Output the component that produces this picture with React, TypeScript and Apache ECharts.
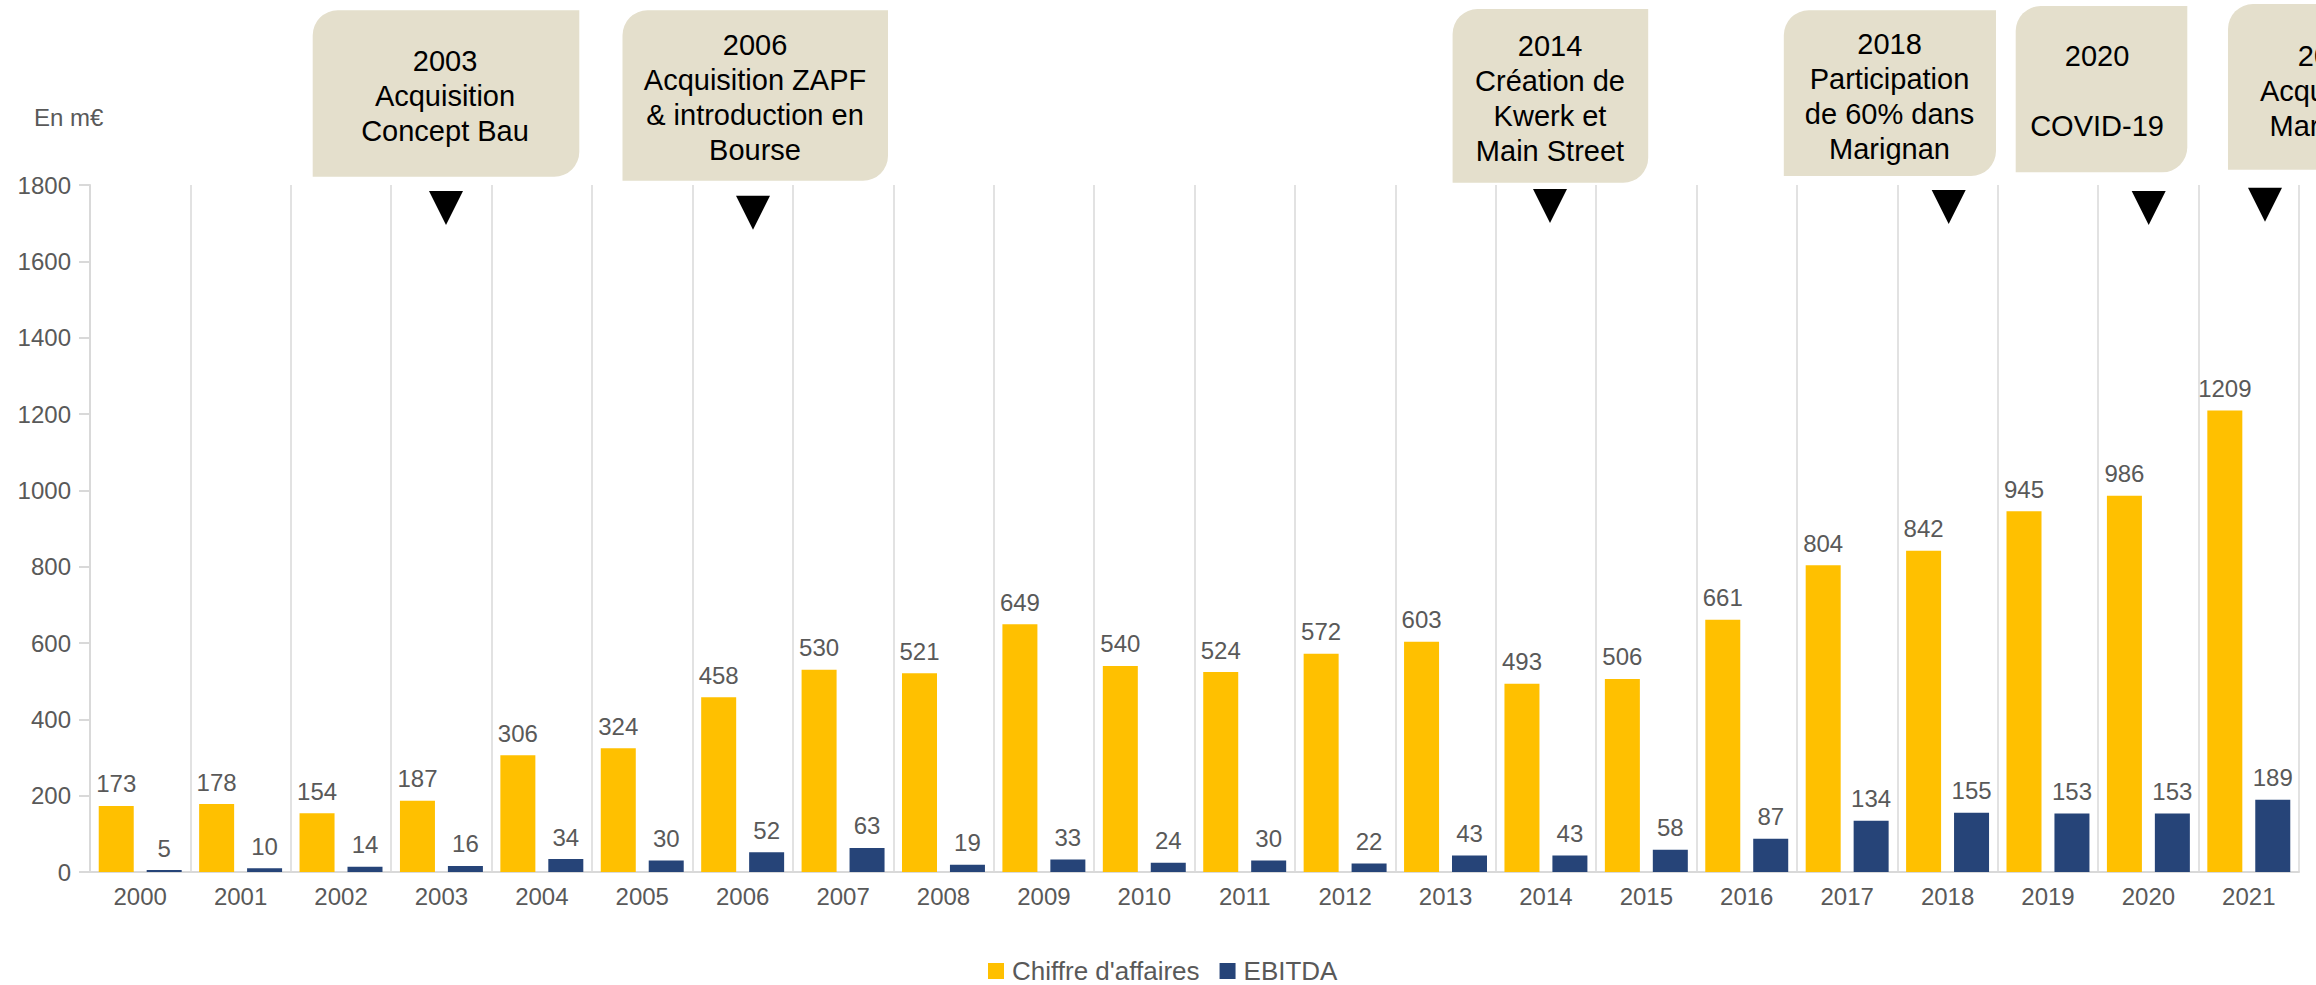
import React, { useEffect, useRef } from "react";
import * as echarts from "echarts";

const years = ["2000","2001","2002","2003","2004","2005","2006","2007","2008","2009","2010","2011","2012","2013","2014","2015","2016","2017","2018","2019","2020","2021"];
const chiffreAffaires = [173,178,154,187,306,324,458,530,521,649,540,524,572,603,493,506,661,804,842,945,986,1209];
const ebitda = [5,10,14,16,34,30,52,63,19,33,24,30,22,43,43,58,87,134,155,153,153,189];
const yTicks = { min: 0, max: 1800, interval: 200 };

const events = [
  { text: "2003\nAcquisition\nConcept Bau", box: [312.7, 10.3, 579.3, 176.7], tx: 445, ty: 95.5, tri: [446, 191] },
  { text: "2006\nAcquisition ZAPF\n& introduction en\nBourse", box: [622.5, 10.3, 888, 180.7], tx: 755, ty: 97.7, tri: [753, 195.7] },
  { text: "2014\nCréation de\nKwerk et\nMain Street", box: [1452.6, 9, 1648.2, 182.7], tx: 1550, ty: 98, tri: [1550, 189] },
  { text: "2018\nParticipation\nde 60% dans\nMarignan", box: [1783.8, 10.3, 1996, 176], tx: 1889.5, ty: 96.6, tri: [1948.7, 190] },
  { text: "2020\n\nCOVID-19", box: [2015.7, 6, 2187.3, 172.3], tx: 2097, ty: 91, tri: [2148.7, 191] },
  { text: "2021\nAcquisition\nMarignan", box: [2228, 4, 2432, 169.7], tx: 2330, ty: 90.7, tri: [2265, 187.7] },
];

const FONT = "Liberation Sans";
const GREY = "#595959";
const LINE = "#d9d9d9";

export default function App() {
  const ref = useRef<HTMLDivElement>(null);
  useEffect(() => {
    if (!ref.current) return;
    const chart = echarts.init(ref.current, null, { renderer: "svg" });
    const graphics: any[] = [];
    graphics.push({
      type: "text",
      left: 34,
      top: 105,
      style: { text: "En m€", font: `24px "${FONT}"`, fill: GREY },
    });
    events.forEach((e) => {
      const [x1, y1, x2, y2] = e.box;
      graphics.push({
        type: "rect",
        shape: { x: x1, y: y1, width: x2 - x1, height: y2 - y1, r: [25, 0, 25, 0] },
        style: { fill: "#e4dfcc" },
        z: 10,
      });
      graphics.push({
        type: "text",
        x: e.tx,
        y: e.ty,
        style: {
          text: e.text,
          font: `29px "${FONT}"`,
          fill: "#000000",
          align: "center",
          verticalAlign: "middle",
          lineHeight: 35,
        },
        z: 11,
      });
      const [cx, top] = e.tri;
      graphics.push({
        type: "polygon",
        shape: { points: [[cx - 17, top], [cx + 17, top], [cx, top + 34]] },
        style: { fill: "#000000" },
        z: 10,
      });
    });

    chart.setOption({
      animation: false,
      textStyle: { fontFamily: FONT },
      grid: { left: 90, right: 17, top: 185, bottom: 113 },
      legend: {
        data: ["Chiffre d'affaires", "EBITDA"],
        left: 988,
        top: 958,
        padding: 0,
        icon: "rect",
        itemWidth: 16,
        itemHeight: 16,
        itemGap: 20,
        textStyle: { fontSize: 26, color: GREY, fontFamily: FONT, padding: [0, 0, 0, 3] },
      },
      xAxis: {
        type: "category",
        data: years,
        axisLine: { show: true, lineStyle: { color: LINE, width: 2 } },
        axisTick: { show: false },
        splitLine: { show: true, lineStyle: { color: LINE, width: 1.5 } },
        axisLabel: { fontSize: 24, color: GREY, margin: 12, fontFamily: FONT },
      },
      yAxis: {
        type: "value",
        min: yTicks.min,
        max: yTicks.max,
        interval: yTicks.interval,
        axisLine: { show: true, lineStyle: { color: LINE, width: 2 } },
        axisTick: { show: true, length: 11, lineStyle: { color: LINE, width: 2 } },
        splitLine: { show: false },
        axisLabel: {
          fontSize: 24,
          color: GREY,
          margin: 19,
          fontFamily: FONT,
          formatter: (v: number) => String(v),
        },
      },
      series: [
        {
          name: "Chiffre d'affaires",
          type: "bar",
          data: chiffreAffaires,
          barWidth: 35,
          barGap: "37%",
          itemStyle: { color: "#FFC000" },
          label: { show: true, position: "top", distance: 10, fontSize: 24, color: GREY, fontFamily: FONT },
        },
        {
          name: "EBITDA",
          type: "bar",
          data: ebitda,
          barWidth: 35,
          barGap: "37%",
          itemStyle: { color: "#264478" },
          label: { show: true, position: "top", distance: 10, fontSize: 24, color: GREY, fontFamily: FONT },
        },
      ],
      graphic: graphics,
    });
    return () => chart.dispose();
  }, []);
  return (
    <div
      ref={ref}
      style={{ position: "fixed", left: 0, top: 0, width: 2316, height: 985, background: "#ffffff" }}
    />
  );
}
